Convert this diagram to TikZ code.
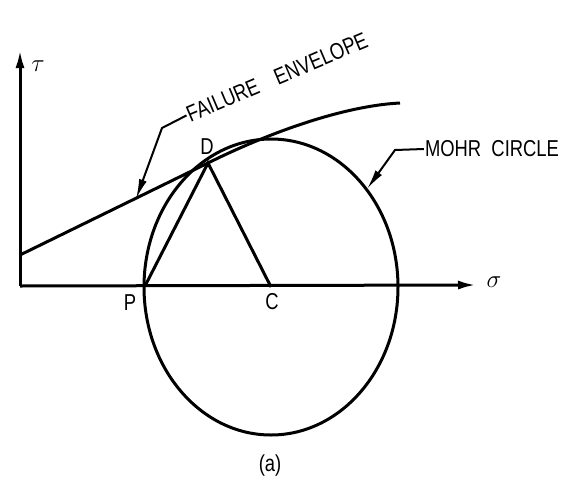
\documentclass[tikz,border=0pt]{standalone}
\usepackage{fontspec}
\usepackage{graphicx}
\setmainfont{Liberation Sans}
\usetikzlibrary{arrows.meta,positioning,calc}
\newcommand{\narrowtxt}[1]{\scalebox{0.8}[1]{#1}}

\begin{document}
\begin{tikzpicture}[
			x=1pt,y=-1pt,
			>=Latex,
			axis/.style={
				line width=3pt,
				-{Latex[length=18pt,width=9pt]}
			},
			curve/.style={
				line width=3pt
			},
			lead/.style={
				line width=2pt,
				-{Latex[length=20pt,width=8pt]}
			},
			lbl/.style={
				inner sep=1pt,
				font=\fontsize{23}{25}\selectfont
			}
			]
			
			\useasboundingbox (0,0) rectangle (571,480);
			
			\coordinate (O) at (20,286);
			\coordinate (ytop) at (20,50);
			\coordinate (xend) at (476,285);
			
			\draw[axis] (O) -- (ytop);
			\draw[axis] (O) -- (xend);
			
			\node[lbl,font=\fontsize{26}{28}\selectfont] (tau) at (38,66) {$\tau$};
			\node[lbl,font=\fontsize{26}{28}\selectfont] (sigma) at (494,282) {$\sigma$};
			
			\coordinate (C) at (271,287);
			\coordinate (P) at (145,286);
			\coordinate (D) at (208,163);
			\coordinate (E0) at (20,255);
			\coordinate (E1) at (400,103);
			
			\draw[curve] (C) ellipse [x radius=127, y radius=148];
			\draw[curve] (E0) -- (D) .. controls (262,136) and (340,106) .. (E1);
			\draw[curve] (P) -- (D) -- (C);
			
			\node[lbl] (Dlbl) at (207,147) {\narrowtxt{D}};
			\node[lbl] (Plbl) at (130,303) {\narrowtxt{P}};
			\node[lbl] (Clbl) at (272,302) {\narrowtxt{C}};
			\node[lbl] (cap) at (270,466) {\narrowtxt{(a)}};
			
			\node[lbl,rotate=23] (fail) at (277,77) {\narrowtxt{FAILURE\quad ENVELOPE}};
			\coordinate (fbend) at (162,128);
			\coordinate (ftip) at (136,199);
			\draw[lead] (fail.west) -- (fbend) -- (ftip);
			
			\node[lbl] (mohr) at (492,149) {\narrowtxt{MOHR\ \ CIRCLE}};
			\coordinate (mbend) at (395,150);
			\coordinate (mtip) at (367,189);
			\draw[lead] (mohr.west) -- (mbend) -- (mtip);
			
		\end{tikzpicture}
\end{document}
